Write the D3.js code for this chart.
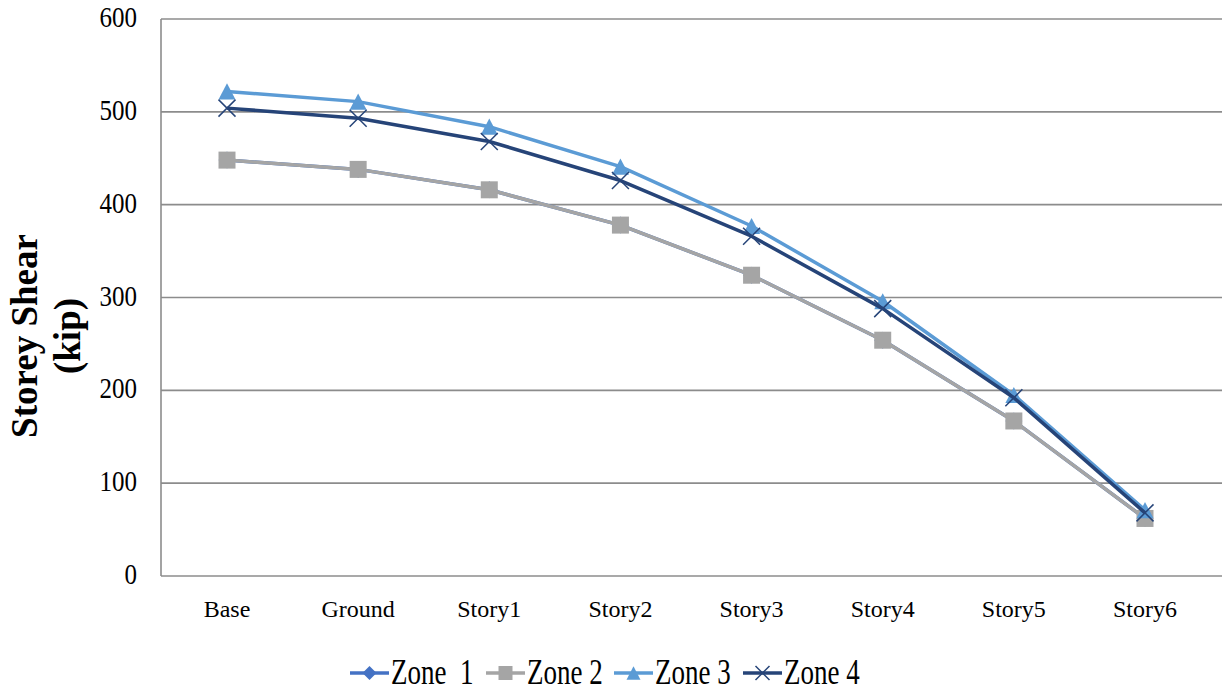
<!DOCTYPE html>
<html>
<head>
<meta charset="utf-8">
<script src="https://cdn.jsdelivr.net/npm/d3@7/dist/d3.min.js"></script>
<style>
  body { margin: 0; background: #fff; }
  text { font-family: "Liberation Serif", "Times New Roman", serif; fill: #000; white-space: pre; }
</style>
</head>
<body>
<div id="chart"></div>
<script>
// donnees
const categories = ["Base", "Ground", "Story1", "Story2", "Story3", "Story4", "Story5", "Story6"];
const zone1 = [448, 438, 416, 378, 324, 254, 167, 62];
const zone2 = [448, 438, 416, 378, 324, 254, 167, 62];
const zone3 = [522, 511, 484, 441, 377, 296, 195, 71];
const zone4 = [504, 493, 468, 426, 366, 288, 192, 68];
const yTicks = [0, 100, 200, 300, 400, 500, 600];
const seriesNames = ["Zone  1", "Zone 2", "Zone 3", "Zone 4"];

const width = 1222;
const height = 692;
const margin = { top: 19, right: 5, bottom: 116, left: 161 };

const series = [
  { name: seriesNames[0], values: zone1, color: "#4472C4", marker: "diamond" },
  { name: seriesNames[1], values: zone2, color: "#A5A5A5", marker: "square" },
  { name: seriesNames[2], values: zone3, color: "#5B9BD5", marker: "triangle" },
  { name: seriesNames[3], values: zone4, color: "#264478", marker: "cross" },
];

const svg = d3
  .select("#chart")
  .append("svg")
  .attr("width", width)
  .attr("height", height);

// echelles
const x = d3
  .scalePoint()
  .domain(categories)
  .range([margin.left + 66, width - margin.right - 72]);

const y = d3
  .scaleLinear()
  .domain([0, 600])
  .range([height - margin.bottom, margin.top]);

// lignes de grille
svg
  .append("g")
  .selectAll("line")
  .data(yTicks)
  .enter()
  .append("line")
  .attr("x1", margin.left)
  .attr("x2", width)
  .attr("y1", (d) => y(d))
  .attr("y2", (d) => y(d))
  .attr("stroke", "#8c8c8c")
  .attr("stroke-width", 1.6);

// axe vertical
svg
  .append("line")
  .attr("x1", margin.left)
  .attr("x2", margin.left)
  .attr("y1", y(600))
  .attr("y2", y(0))
  .attr("stroke", "#8c8c8c")
  .attr("stroke-width", 1.6);

// etiquettes Y
svg
  .append("g")
  .selectAll("text")
  .data(yTicks)
  .enter()
  .append("text")
  .attr("transform", (d) => "translate(137," + (y(d) + 8) + ") scale(1,1.15)")
  .attr("text-anchor", "end")
  .style("font-size", "25px")
  .text((d) => d);

// etiquettes X
svg
  .append("g")
  .selectAll("text")
  .data(categories)
  .enter()
  .append("text")
  .attr("x", (d) => x(d))
  .attr("y", 617)
  .attr("text-anchor", "middle")
  .style("font-size", "24px")
  .text((d) => d);

// titre axe Y
const title = svg.append("g").attr("transform", "translate(0,336) rotate(-90)");
title
  .append("text")
  .attr("x", 0)
  .attr("y", 37)
  .attr("text-anchor", "middle")
  .style("font-size", "37px")
  .style("font-weight", "bold")
  .text("Storey Shear");
title
  .append("text")
  .attr("x", 0)
  .attr("y", 80)
  .attr("text-anchor", "middle")
  .style("font-size", "37px")
  .style("font-weight", "bold")
  .text("(kip)");

// marqueurs
function drawMarker(g, type, color, s) {
  const r = s / 2;
  if (type === "diamond") {
    g.append("path")
      .attr("d", "M0," + -r + "L" + r + ",0L0," + r + "L" + -r + ",0Z")
      .attr("fill", color);
  } else if (type === "square") {
    g.append("rect")
      .attr("x", -r)
      .attr("y", -r)
      .attr("width", s)
      .attr("height", s)
      .attr("fill", color);
  } else if (type === "triangle") {
    const h = s * 0.95;
    g.append("path")
      .attr("d", "M0," + -h / 2 + "L" + r + "," + h / 2 + "L" + -r + "," + h / 2 + "Z")
      .attr("fill", color);
  } else if (type === "cross") {
    g.append("path")
      .attr("d", "M" + -r + "," + -r + "L" + r + "," + r + "M" + -r + "," + r + "L" + r + "," + -r)
      .attr("stroke", color)
      .attr("stroke-width", 1.5)
      .attr("fill", "none");
  }
}

const line = d3
  .line()
  .x((d, i) => x(categories[i]))
  .y((d) => y(d));

series.forEach((s) => {
  const g = svg.append("g");
  g.append("path")
    .datum(s.values)
    .attr("d", line)
    .attr("fill", "none")
    .attr("stroke", s.color)
    .attr("stroke-width", 3.5)
    .attr("stroke-linejoin", "round");
  s.values.forEach((v, i) => {
    const m = g
      .append("g")
      .attr("transform", "translate(" + x(categories[i]) + "," + y(v) + ")");
    drawMarker(m, s.marker, s.color, 17);
  });
});

// legende
const legendX = [350, 486, 614, 743];
series.forEach((s, i) => {
  const g = svg.append("g").attr("transform", "translate(" + legendX[i] + ",673)");
  g.append("line")
    .attr("x1", 0)
    .attr("x2", 39)
    .attr("y1", 0)
    .attr("y2", 0)
    .attr("stroke", s.color)
    .attr("stroke-width", 3.5);
  const m = g.append("g").attr("transform", "translate(19.5,0)");
  drawMarker(m, s.marker, s.color, 14);
  g.append("text")
    .attr("transform", "translate(41,11) scale(1,1.3)")
    .attr("xml:space", "preserve")
    .style("font-size", "27px")
    .text(s.name);
});
</script>
</body>
</html>
